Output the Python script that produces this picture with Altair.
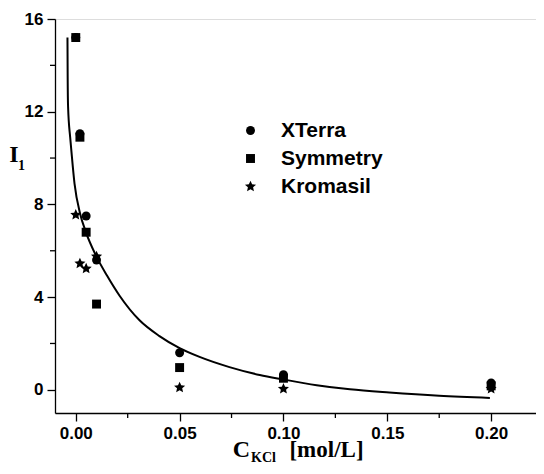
import altair as alt
import pandas as pd

# ---- data ----
conc = [0.0, 0.002, 0.005, 0.01, 0.05, 0.10, 0.20]
xterra = [15.2, 11.05, 7.5, 5.6, 1.6, 0.65, 0.3]
symmetry = [15.2, 10.9, 6.8, 3.7, 0.96, 0.5, 0.17]
kromasil_x = [0.0, 0.002, 0.005, 0.01, 0.05, 0.10, 0.20]
kromasil = [7.55, 5.45, 5.23, 5.75, 0.1, 0.04, 0.04]

fit_x = [-0.0040, -0.0039, -0.0037, -0.0027, -0.0022, -0.0006, 0.0021, 0.0047,
         0.0098, 0.0151, 0.0211, 0.0307, 0.0403, 0.05, 0.0596, 0.074, 0.0886,
         0.0998, 0.116, 0.132, 0.151, 0.175, 0.1994]
fit_y = [15.2, 13.5, 12.2, 10.9, 10.4, 8.9, 7.6, 6.85, 5.78, 4.92, 4.06, 3.0,
         2.32, 1.80, 1.42, 0.98, 0.64, 0.45, 0.2, 0.02, -0.12, -0.26, -0.35]

series = ["XTerra", "Symmetry", "Kromasil"]
STAR = ("M0,-1.3L0.36,-0.49L1.24,-0.4L0.58,0.19L0.77,1.05L0,0.6"
        "L-0.77,1.05L-0.58,0.19L-1.24,-0.4L-0.36,-0.49Z")
shapes = ["circle", "square", STAR]

x_major = [0.0, 0.05, 0.10, 0.15, 0.20]
x_minor = [0.025, 0.075, 0.125, 0.175]
y_major = [0, 4, 8, 12, 16]
y_minor = [2, 6, 10, 14]

pts = pd.DataFrame(
    [{"c": c, "v": v, "s": "XTerra"} for c, v in zip(conc, xterra)]
    + [{"c": c, "v": v, "s": "Symmetry"} for c, v in zip(conc, symmetry)]
    + [{"c": c, "v": v, "s": "Kromasil"} for c, v in zip(kromasil_x, kromasil)]
)
fit = pd.DataFrame({"c": fit_x, "v": fit_y, "i": list(range(len(fit_x)))})

W, H = 481, 394
FONT = "Liberation Sans"
SERIF = "Liberation Serif"

xscale = alt.Scale(domain=[-0.01, 0.2216], nice=False, zero=False)
yscale = alt.Scale(domain=[-1, 16], nice=False, zero=False)

xaxis = alt.Axis(
    values=x_major, format=".2f", title=None, grid=False, orient="bottom",
    domainColor="black", domainWidth=1.3, tickColor="black", tickWidth=1.3, tickSize=8,
    labelFont=FONT, labelFontWeight="bold", labelFontSize=17, labelColor="black",
    labelPadding=4,
)
yaxis = alt.Axis(
    values=y_major, title=None, grid=False, orient="left",
    domainColor="black", domainWidth=1.3, tickColor="black", tickWidth=1.3, tickSize=8,
    labelFont=FONT, labelFontWeight="bold", labelFontSize=17, labelColor="black",
    labelPadding=4,
)

X = alt.X("c:Q", scale=xscale, axis=xaxis)
Y = alt.Y("v:Q", scale=yscale, axis=yaxis)

line = alt.Chart(fit).mark_line(color="black", strokeWidth=2, interpolate="monotone").encode(
    x=X, y=Y, order="i:Q",
)

points = alt.Chart(pts).mark_point(filled=True, opacity=1, color="black", size=80).encode(
    x=X, y=Y,
    shape=alt.Shape(
        "s:N",
        scale=alt.Scale(domain=series, range=shapes),
        legend=alt.Legend(
            title=None, orient="none", legendX=185, legendY=101, padding=0,
            symbolSize=80, symbolFillColor="black", symbolStrokeColor="black",
            labelOffset=20, rowPadding=6,
            labelFont=FONT, labelFontWeight="bold", labelFontSize=21, labelColor="black",
        ),
    ),
)

xminor = alt.Chart(pd.DataFrame({"c": x_minor})).mark_rule(color="black", strokeWidth=1.3).encode(
    x=X, y=alt.value(H), y2=alt.value(H + 5),
)
yminor = alt.Chart(pd.DataFrame({"v": y_minor})).mark_rule(color="black", strokeWidth=1.3).encode(
    y=Y, x=alt.value(0), x2=alt.value(-5),
)

one = pd.DataFrame({"k": [0]})

def txt(s, x, y, size, font=SERIF):
    return alt.Chart(one).mark_text(
        text=s, font=font, fontWeight="bold", fontSize=size, color="black",
        align="center", baseline="alphabetic",
    ).encode(x=alt.value(x), y=alt.value(y))

titles = [
    txt("I", -41, 143, 24),
    txt("1", -33.5, 151, 14),
    txt("C", 186.5, 438, 24),
    txt("KCl", 208.5, 443, 14),
    txt("[mol/L]", 271.5, 438, 23),
]

chart = alt.layer(line, points, xminor, yminor, *titles).properties(
    width=W, height=H,
    autosize=alt.AutoSizeParams(type="none"),
    padding={"left": 47, "top": 11, "right": 0, "bottom": 53},
).configure_view(stroke=None).configure(background="white")

chart.save("out.html", embed_options={"renderer": "svg", "actions": False})
